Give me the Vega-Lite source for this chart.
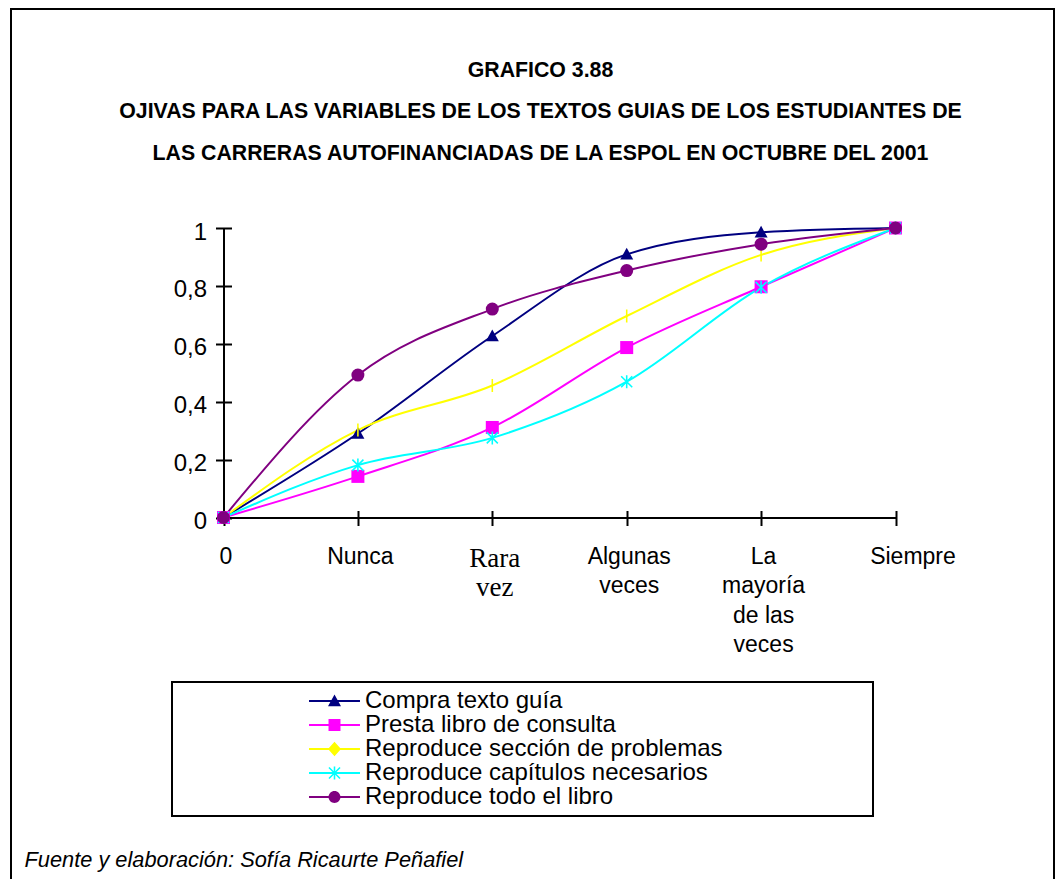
{
  "$schema": "https://vega.github.io/schema/vega-lite/v6.json",
  "width": 1043,
  "height": 872,
  "autosize": {"type": "none"},
  "padding": {"left": 11, "top": 9, "right": 1, "bottom": -2},
  "background": "white",
  "config": {
    "view": {"stroke": "black", "strokeWidth": 2},
    "font": "Liberation Sans",
    "legend": {"strokeWidth": 2}
  },
  "title": {
    "text": ["GRAFICO 3.88", "OJIVAS PARA LAS VARIABLES DE LOS TEXTOS GUIAS DE LOS ESTUDIANTES DE", "LAS CARRERAS AUTOFINANCIADAS DE LA ESPOL EN OCTUBRE DEL 2001"],
    "font": "Liberation Sans",
    "fontSize": 21.3,
    "fontWeight": "bold",
    "color": "black",
    "lineHeight": 41.5,
    "anchor": "middle",
    "frame": "group",
    "offset": -155,
    "dx": 8
  },
  "data": {
    "values": [
      {"cat": "0", "series": "Compra texto guía", "v": 0},
      {"cat": "Nunca", "series": "Compra texto guía", "v": 0.29},
      {"cat": "Rara vez", "series": "Compra texto guía", "v": 0.627},
      {"cat": "Algunas veces", "series": "Compra texto guía", "v": 0.909},
      {"cat": "La mayoría de las veces", "series": "Compra texto guía", "v": 0.985},
      {"cat": "Siempre", "series": "Compra texto guía", "v": 1},
      {"cat": "0", "series": "Presta libro de consulta", "v": 0},
      {"cat": "Nunca", "series": "Presta libro de consulta", "v": 0.142},
      {"cat": "Rara vez", "series": "Presta libro de consulta", "v": 0.311},
      {"cat": "Algunas veces", "series": "Presta libro de consulta", "v": 0.587},
      {"cat": "La mayoría de las veces", "series": "Presta libro de consulta", "v": 0.797},
      {"cat": "Siempre", "series": "Presta libro de consulta", "v": 1},
      {"cat": "0", "series": "Reproduce sección de problemas", "v": 0},
      {"cat": "Nunca", "series": "Reproduce sección de problemas", "v": 0.302},
      {"cat": "Rara vez", "series": "Reproduce sección de problemas", "v": 0.456},
      {"cat": "Algunas veces", "series": "Reproduce sección de problemas", "v": 0.696},
      {"cat": "La mayoría de las veces", "series": "Reproduce sección de problemas", "v": 0.907},
      {"cat": "Siempre", "series": "Reproduce sección de problemas", "v": 1},
      {"cat": "0", "series": "Reproduce capítulos necesarios", "v": 0},
      {"cat": "Nunca", "series": "Reproduce capítulos necesarios", "v": 0.181},
      {"cat": "Rara vez", "series": "Reproduce capítulos necesarios", "v": 0.275},
      {"cat": "Algunas veces", "series": "Reproduce capítulos necesarios", "v": 0.469},
      {"cat": "La mayoría de las veces", "series": "Reproduce capítulos necesarios", "v": 0.795},
      {"cat": "Siempre", "series": "Reproduce capítulos necesarios", "v": 1},
      {"cat": "0", "series": "Reproduce todo el libro", "v": 0},
      {"cat": "Nunca", "series": "Reproduce todo el libro", "v": 0.492},
      {"cat": "Rara vez", "series": "Reproduce todo el libro", "v": 0.72},
      {"cat": "Algunas veces", "series": "Reproduce todo el libro", "v": 0.853},
      {"cat": "La mayoría de las veces", "series": "Reproduce todo el libro", "v": 0.944},
      {"cat": "Siempre", "series": "Reproduce todo el libro", "v": 1}
    ]
  },
  "resolve": {"axis": {"x": "independent", "y": "independent"}},
  "layer": [
    {
      "mark": {"type": "line", "interpolate": "monotone", "strokeWidth": 2},
      "encoding": {
        "x": {
          "field": "cat",
          "type": "ordinal",
          "scale": {"type": "point", "domain": ["0", "Nunca", "Rara vez", "Algunas veces", "La mayoría de las veces", "Siempre"], "range": [212.5, 884.5], "padding": 0},
          "axis": {
            "orient": "bottom",
            "offset": -363.5,
            "grid": false,
            "domainColor": "black",
            "domainWidth": 2,
            "tickColor": "black",
            "tickWidth": 2,
            "tickSize": 8,
            "labelAngle": 0,
            "labelColor": "black",
            "labelFont": {"condition": {"test": "datum.value == 'Rara vez'", "value": "Liberation Serif"}, "value": "Liberation Sans"},
            "labelFontSize": {"condition": {"test": "datum.value == 'Rara vez'", "value": 27}, "value": 23},
            "labelOffset": {"condition": {"test": "datum.value == 'Siempre'", "value": 17}, "value": 2},
            "labelPadding": 20,
            "labelBaseline": "top",
            "labelLineHeight": 29.3,
            "labelFlush": false,
            "labelOverlap": false,
            "labelBound": false,
            "labelLimit": 0,
            "labelExpr": "datum.value == 'Rara vez' ? ['Rara', 'vez'] : datum.value == 'Algunas veces' ? ['Algunas', 'veces'] : datum.value == 'La mayoría de las veces' ? ['La', 'mayoría', 'de las', 'veces'] : datum.label",
            "title": "Fuente y elaboración: Sofía Ricaurte Peñafiel",
            "titleX": 13,
            "titleY": 349,
            "titleAlign": "left",
            "titleBaseline": "alphabetic",
            "titleAngle": 0,
            "titleFont": "Liberation Sans",
            "titleFontSize": 21.8,
            "titleFontStyle": "italic",
            "titleFontWeight": "normal",
            "titleColor": "black"
          }
        },
        "y": {
          "field": "v",
          "type": "quantitative",
          "scale": {"domain": [0, 1], "range": [508.5, 219], "nice": false, "zero": false},
          "axis": {
            "orient": "left",
            "offset": -212.5,
            "values": [0, 0.2, 0.4, 0.6, 0.8, 1],
            "grid": false,
            "domainColor": "black",
            "domainWidth": 2,
            "tickColor": "black",
            "tickWidth": 2,
            "tickSize": 8,
            "labelColor": "black",
            "labelFont": "Liberation Sans",
            "labelFontSize": 24,
            "labelPadding": 9,
            "labelOffset": 4,
            "labelFlush": false,
            "labelOverlap": false,
            "labelBound": false,
            "labelExpr": "replace(format(datum.value, '~g'), '.', ',')",
            "title": null
          }
        },
        "color": {
          "field": "series",
          "type": "nominal",
          "sort": ["Compra texto guía", "Presta libro de consulta", "Reproduce sección de problemas", "Reproduce capítulos necesarios", "Reproduce todo el libro"],
          "scale": {"range": ["#000080", "#FF00FF", "#FFFF00", "#00FFFF", "#800080"]},
          "legend": null
        }
      }
    },
    {
      "transform": [{"filter": "datum.series == 'Compra texto guía'"}],
      "mark": {"type": "point", "filled": true, "size": 169, "opacity": 1, "color": "#000080", "shape": "M0,-1L1,0.8L-1,0.8Z"},
      "encoding": {
        "x": {
          "field": "cat",
          "type": "ordinal",
          "axis": {
            "orient": "top",
            "offset": -508.5,
            "labels": false,
            "domain": false,
            "grid": false,
            "tickColor": "black",
            "tickWidth": 2,
            "tickSize": 7,
            "title": null
          }
        },
        "y": {
          "field": "v",
          "type": "quantitative",
          "axis": {
            "orient": "right",
            "offset": -830.5,
            "values": [0, 0.2, 0.4, 0.6, 0.8, 1],
            "labels": false,
            "domain": false,
            "grid": false,
            "tickColor": "black",
            "tickWidth": 2,
            "tickSize": 8,
            "title": null
          }
        }
      }
    },
    {
      "transform": [{"filter": "datum.series == 'Presta libro de consulta'"}],
      "mark": {"type": "point", "filled": true, "size": 169, "opacity": 1, "color": "#FF00FF", "shape": "square"},
      "encoding": {
        "x": {"field": "cat", "type": "ordinal", "axis": null},
        "y": {"field": "v", "type": "quantitative", "axis": null}
      }
    },
    {
      "transform": [{"filter": "datum.series == 'Reproduce sección de problemas'"}],
      "mark": {"type": "point", "filled": true, "size": 169, "opacity": 1, "color": "#FFFF00", "shape": "M-0.12,-1L0.12,-1L0.12,1L-0.12,1Z"},
      "encoding": {
        "x": {"field": "cat", "type": "ordinal", "axis": null},
        "y": {"field": "v", "type": "quantitative", "axis": null}
      }
    },
    {
      "transform": [{"filter": "datum.series == 'Reproduce capítulos necesarios'"}],
      "mark": {"type": "point", "filled": true, "size": 169, "opacity": 1, "color": "#00FFFF", "shape": "M-0.12,-1L0.12,-1L0.12,1L-0.12,1ZM-0.935,-0.765L-0.765,-0.935L0.935,0.765L0.765,0.935ZM-0.765,0.935L-0.935,0.765L0.765,-0.935L0.935,-0.765Z"},
      "encoding": {
        "x": {"field": "cat", "type": "ordinal", "axis": null},
        "y": {"field": "v", "type": "quantitative", "axis": null}
      }
    },
    {
      "transform": [{"filter": "datum.series == 'Reproduce todo el libro'"}],
      "mark": {"type": "point", "filled": true, "size": 169, "opacity": 1, "color": "#800080", "shape": "circle"},
      "encoding": {
        "x": {"field": "cat", "type": "ordinal", "axis": null},
        "y": {"field": "v", "type": "quantitative", "axis": null}
      }
    },
    {
      "mark": {"type": "point", "filled": true, "size": 0, "opacity": 1},
      "encoding": {
        "x": {"field": "cat", "type": "ordinal", "axis": null},
        "y": {"field": "v", "type": "quantitative", "axis": null},
        "fill": {
          "field": "series",
          "type": "nominal",
          "scale": {
            "domain": ["Compra texto guía", "Presta libro de consulta", "Reproduce sección de problemas", "Reproduce capítulos necesarios", "Reproduce todo el libro"],
            "range": ["#000080", "#FF00FF", "#FFFF00", "#00FFFF", "#800080"]
          },
          "legend": {
            "orient": "none",
            "legendX": 161,
            "legendY": 673,
            "padding": 7,
            "strokeColor": "black",
            "fillColor": "white",
            "title": "\u00a0",
            "titleOrient": "right",
            "titleFontSize": 2,
            "titlePadding": 143,
            "titleOpacity": 0,
            "rowPadding": 0,
            "symbolSize": 169,
            "symbolStrokeWidth": 0,
            "symbolOpacity": 1,
            "symbolOffset": 143.5,
            "labelOffset": 18.5,
            "labelFont": "Liberation Sans",
            "labelFontSize": 24,
            "labelColor": "black",
            "labelLimit": 1000
          }
        },
        "shape": {
          "field": "series",
          "type": "nominal",
          "scale": {
            "domain": ["Compra texto guía", "Presta libro de consulta", "Reproduce sección de problemas", "Reproduce capítulos necesarios", "Reproduce todo el libro"],
            "range": [
              "M-3.92,-0.154L3.92,-0.154L3.92,0.154L-3.92,0.154ZM0,-1L1,0.8L-1,0.8Z",
              "M-3.92,-0.154L3.92,-0.154L3.92,0.154L-3.92,0.154ZM-0.92,-0.92L0.92,-0.92L0.92,0.92L-0.92,0.92Z",
              "M-3.92,-0.154L3.92,-0.154L3.92,0.154L-3.92,0.154ZM0,-1.1L1,0L0,1.1L-1,0Z",
              "M-3.92,-0.154L3.92,-0.154L3.92,0.154L-3.92,0.154ZM-0.12,-1L0.12,-1L0.12,1L-0.12,1ZM-0.935,-0.765L-0.765,-0.935L0.935,0.765L0.765,0.935ZM-0.765,0.935L-0.935,0.765L0.765,-0.935L0.935,-0.765Z",
              "M-3.92,-0.154L3.92,-0.154L3.92,0.154L-3.92,0.154ZM-0.92,0A0.92,0.92 0 1,1 0.92,0A0.92,0.92 0 1,1 -0.92,0Z"
            ]
          },
          "legend": {
            "orient": "none",
            "legendX": 161,
            "legendY": 673
          }
        }
      }
    }
  ]
}
